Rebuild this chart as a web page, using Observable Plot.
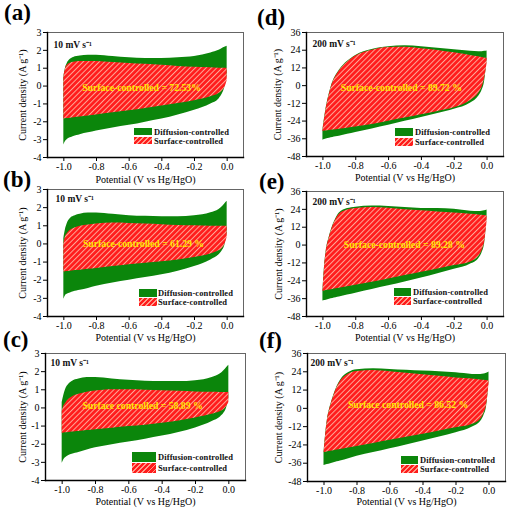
<!DOCTYPE html>
<html>
<head>
<meta charset="utf-8">
<script src="https://cdn.jsdelivr.net/npm/d3@7"></script>
<script src="https://cdn.jsdelivr.net/npm/@observablehq/plot@0.6"></script>
<style>
  html, body { margin: 0; padding: 0; background: #fff; }
  #wrap { position: relative; width: 515px; height: 509px; overflow: hidden; font-family: "Liberation Serif", "Times New Roman", serif; }
  .pnl { position: absolute; }
  .letter { position: absolute; font-weight: bold; font-size: 23px; line-height: 23px; color: #000; }
  .sw { position: absolute; }
  .sw.green { background: #0b860b; }
  .sw.red { background: repeating-linear-gradient(135deg, #ff1c1c 0 2.6px, #ff9c8c 2.6px 3.6px); }
  .lt { position: absolute; font-weight: bold; font-size: 8.5px; line-height: 10px; color: #111; white-space: nowrap; letter-spacing: 0.1px; }
</style>
</head>
<body>
<svg width="0" height="0" style="position:absolute">
  <defs>
    <pattern id="hatch" patternUnits="userSpaceOnUse" width="3.8" height="3.8" patternTransform="rotate(45)">
      <rect width="3.8" height="3.8" fill="#ff1c1c"></rect>
      <line x1="0.5" y1="0" x2="0.5" y2="3.8" stroke="#ffa696" stroke-width="1"></line>
    </pattern>
  </defs>
</svg>
<div id="wrap"></div>
<script>
// ---------------- DATA ----------------
const potential = [-1.0, -0.99, -0.98, -0.96, -0.94, -0.92, -0.9, -0.85, -0.8, -0.7, -0.6, -0.5, -0.4, -0.3, -0.2, -0.1, -0.05, -0.03, -0.015, 0.0];

// (a) 10 mV/s
const totalUpperA = [0.5, 1.0, 1.25, 1.5, 1.6, 1.65, 1.68, 1.72, 1.72, 1.65, 1.58, 1.55, 1.55, 1.58, 1.65, 1.85, 2.0, 2.1, 2.17, 2.23];
const totalLowerA = [-3.3, -3.1, -3.0, -2.9, -2.82, -2.77, -2.72, -2.62, -2.52, -2.35, -2.2, -2.02, -1.85, -1.62, -1.35, -1.0, -0.72, -0.45, -0.1, 0.6];
const surfUpperA  = [0.5, 0.95, 1.15, 1.28, 1.33, 1.36, 1.37, 1.38, 1.37, 1.32, 1.27, 1.22, 1.16, 1.1, 1.06, 1.02, 1.0, 1.0, 1.0, 0.98];
const surfLowerA  = [-1.85, -1.83, -1.82, -1.8, -1.77, -1.75, -1.73, -1.67, -1.62, -1.5, -1.38, -1.25, -1.12, -0.98, -0.82, -0.6, -0.42, -0.28, -0.1, 0.3];

// (b) 10 mV/s
const totalUpperB = [0.3, 0.8, 1.1, 1.4, 1.52, 1.6, 1.64, 1.7, 1.7, 1.63, 1.56, 1.52, 1.5, 1.5, 1.55, 1.72, 1.9, 2.05, 2.2, 2.35];
const totalLowerB = [-3.05, -2.85, -2.78, -2.7, -2.64, -2.6, -2.56, -2.45, -2.33, -2.15, -2.0, -1.85, -1.7, -1.5, -1.25, -0.88, -0.6, -0.38, -0.1, 0.6];
const surfUpperB  = [0.0, 0.4, 0.55, 0.75, 0.85, 0.92, 0.97, 1.05, 1.1, 1.15, 1.13, 1.1, 1.06, 1.02, 1.0, 0.98, 0.98, 0.98, 0.98, 0.98];
const surfLowerB  = [-1.55, -1.53, -1.52, -1.5, -1.48, -1.47, -1.45, -1.4, -1.35, -1.25, -1.15, -1.07, -0.98, -0.88, -0.75, -0.55, -0.38, -0.25, -0.05, 0.35];

// (c) 10 mV/s
const totalUpperC = [0.3, 0.7, 1.0, 1.3, 1.45, 1.55, 1.6, 1.68, 1.68, 1.6, 1.52, 1.47, 1.45, 1.45, 1.5, 1.68, 1.88, 2.05, 2.2, 2.35];
const totalLowerC = [-3.05, -2.85, -2.75, -2.62, -2.55, -2.5, -2.45, -2.32, -2.2, -2.03, -1.88, -1.72, -1.55, -1.35, -1.1, -0.75, -0.5, -0.3, -0.05, 0.5];
const surfUpperC  = [-0.2, 0.1, 0.25, 0.48, 0.6, 0.7, 0.76, 0.87, 0.93, 1.0, 1.0, 0.98, 0.95, 0.92, 0.88, 0.86, 0.85, 0.85, 0.85, 0.85];
const surfLowerC  = [-1.4, -1.38, -1.37, -1.35, -1.33, -1.31, -1.3, -1.25, -1.2, -1.12, -1.03, -0.95, -0.85, -0.72, -0.55, -0.35, -0.2, -0.1, 0.05, 0.3];

// (d) 200 mV/s
const totalUpperD = [-30, -22, -15, -5, 2.5, 7, 10.5, 16.5, 20.5, 24.5, 26.3, 27, 26.3, 25.3, 24.3, 23.3, 23, 23, 23.3, 23.5];
const totalLowerD = [-37, -36.5, -36.2, -35.7, -35.2, -34.7, -34.2, -33, -31.8, -29.3, -26.8, -24.2, -21.5, -18.8, -16, -11.8, -7, -3, 3, 18];
const surfUpperD  = [-30.5, -22.5, -15.5, -5.5, 2, 6.5, 10, 16, 20, 24, 25.8, 26, 25, 23.8, 22.2, 20.5, 19.5, 19, 18.8, 18.5];
const surfLowerD  = [-31, -30.8, -30.7, -30.4, -30.1, -29.8, -29.5, -28.8, -28, -26.4, -24.2, -22, -19.8, -17.5, -15, -10, -5, -1, 5, 15];

// (e) 200 mV/s
const totalUpperE = [-31, -14, -4, 6, 13, 18, 21.5, 24.5, 25.5, 26.3, 26, 25.2, 24.6, 24.5, 24, 22.8, 22.5, 22.7, 23, 23.5];
const totalLowerE = [-37.5, -37.2, -37, -36.4, -35.9, -35.4, -34.9, -33.6, -32.3, -29.8, -27.3, -24.8, -22.1, -19.2, -16.3, -12.8, -9, -5, 1, 20];
const surfUpperE  = [-31.5, -14.5, -4.5, 5.5, 12.5, 17.3, 20.7, 23.6, 24.6, 25.2, 24.8, 23.8, 23, 22.3, 21.5, 20.7, 20.2, 20, 19.8, 19.5];
const surfLowerE  = [-31, -30.8, -30.6, -30.2, -29.8, -29.4, -29, -28, -27, -25, -22.8, -20.5, -18.2, -16, -13.8, -11.3, -7.5, -3.5, 2, 16];

// (f) 200 mV/s
const totalUpperF = [-29, -17, -8, 2, 9, 14.5, 18.5, 23.5, 25.3, 26, 25.5, 25, 24.5, 24, 23.3, 22.3, 22.2, 22.5, 23, 23.8];
const totalLowerF = [-37.5, -37.2, -36.9, -36.3, -35.7, -35.1, -34.5, -33, -31.5, -29, -26.5, -24, -21.5, -18.8, -16, -12.3, -8.5, -4.5, 1, 18];
const surfUpperF  = [-29.5, -17.5, -8.5, 1.5, 8.5, 14, 17.8, 22.5, 24.2, 24.8, 24, 23, 22, 21, 20, 19.2, 18.6, 18.4, 18.2, 18];
const surfLowerF  = [-29, -28.8, -28.6, -28.2, -27.8, -27.4, -27, -26, -25, -23, -21, -19, -17, -14.8, -12.8, -10.5, -7, -3, 2, 16];

const xTicks = [-1.0, -0.8, -0.6, -0.4, -0.2, 0.0];
const yTicks10 = [3, 2, 1, 0, -1, -2, -3, -4];
const yTicks200 = [36, 24, 12, 0, -12, -24, -36, -48];
const panelLetters = ["(a)", "(b)", "(c)", "(d)", "(e)", "(f)"];
const scanRates = ["10 mV s\u207B\u00B9", "10 mV s\u207B\u00B9", "10 mV s\u207B\u00B9", "200 mV s\u207B\u00B9", "200 mV s\u207B\u00B9", "200 mV s\u207B\u00B9"];
const surfaceLabels = ["Surface-controlled = 72.53%", "Surface-controlled = 61.29 %", "Surface controlled = 58.89 %",
                       "Surface-controlled = 89.72 %", "Surface-controlled = 89.28 %", "Surface controlled = 86.52 %"];
const legendLabels = ["Diffusion-controlled", "Surface-controlled"];
const xLabel = "Potential (V vs Hg/HgO)";
const yLabel = "Current density (A g\u207B\u00B9)";

const series = [
  [totalUpperA, totalLowerA, surfUpperA, surfLowerA],
  [totalUpperB, totalLowerB, surfUpperB, surfLowerB],
  [totalUpperC, totalLowerC, surfUpperC, surfLowerC],
  [totalUpperD, totalLowerD, surfUpperD, surfLowerD],
  [totalUpperE, totalLowerE, surfUpperE, surfLowerE],
  [totalUpperF, totalLowerF, surfUpperF, surfLowerF]
];

// ---------------- LAYOUT ----------------
const GREEN = "#0b860b";
const YELLOW = "#ffe600";
const layout = [
  {frame: [47, 32, 243, 157],  sx: 0,   yTicks: yTicks10,  yDom: [-4, 3],   xOff: 17, yOff: 28.5, rate: [6, 12], ann: [-4, -7.5], letter: [4, 1],
   leg: {x: 134, y1: 128, y2: 137, w: 18, h: 7, tx: 154}},
  {frame: [47, 189, 243, 316], sx: 0,   yTicks: yTicks10,  yDom: [-4, 3],   xOff: 16, yOff: 28.5, rate: [8, 9], ann: [-2, -9], letter: [3, 168],
   leg: {x: 139, y1: 289, y2: 298, w: 18, h: 7.5, tx: 158}},
  {frame: [45, 353, 245, 480], sx: 0,   yTicks: yTicks10,  yDom: [-4, 3],   xOff: 16, yOff: 26.5, rate: [5, 9], ann: [-3, -11.5], letter: [3, 328],
   leg: {x: 132, y1: 452, y2: 463, w: 24, h: 10, tx: 158}},
  {frame: [306, 32, 503, 156], sx: 258, yTicks: yTicks200, yDom: [-48, 36], xOff: 16, yOff: 32.5, rate: [6, 11], ann: [-3.7, -6.7], letter: [257, 6],
   leg: {x: 395, y1: 128, y2: 138, w: 18, h: 7.5, tx: 415}},
  {frame: [306, 191, 503, 316], sx: 258, yTicks: yTicks200, yDom: [-48, 36], xOff: 16, yOff: 31.5, rate: [6, 10], ann: [-0.7, -9], letter: [259, 170],
   leg: {x: 394, y1: 288, y2: 297, w: 17, h: 7.5, tx: 413}},
  {frame: [307, 353, 505, 481], sx: 258, yTicks: yTicks200, yDom: [-48, 36], xOff: 15, yOff: 32.5, rate: [3, 9], ann: [1.5, -13], letter: [259, 329],
   leg: {x: 401, y1: 456, y2: 465, w: 17, h: 7.5, tx: 420}}
];

const wrap = document.getElementById("wrap");

layout.forEach((L, i) => {
  const [fl, ft, fr, fb] = L.frame;
  const [tU, tL, sU, sL] = series[i];
  const rows = potential.map((p, j) => ({p, tU: tU[j], tL: tL[j], sU: sU[j], sL: sL[j]}));
  const mT = 6, mB = 34, mR = 8;
  const mL = fl - L.sx;
  const sy = ft - mT;
  const width = fr + mR - L.sx;
  const height = fb - ft + mT + mB;

  const svg = Plot.plot({
    width, height,
    marginLeft: mL, marginTop: mT, marginRight: mR, marginBottom: mB,
    style: {background: "transparent", overflow: "visible", maxWidth: "none",
            fontFamily: "'Liberation Serif', 'Times New Roman', serif", fontSize: "10px", color: "#000"},
    x: {domain: [-1.1, 0.1]},
    y: {domain: L.yDom},
    marks: [
      Plot.areaY(rows, {x: "p", y1: "tL", y2: "tU", fill: GREEN, curve: "monotone-x"}),
      Plot.areaY(rows, {x: "p", y1: "sL", y2: "sU", fill: "url(#hatch)", curve: "monotone-x"}),
      Plot.frame({stroke: "#555", strokeWidth: 0.9}),
      Plot.frame({anchor: "left", stroke: "#000", strokeWidth: 1.4}),
      Plot.frame({anchor: "bottom", stroke: "#000", strokeWidth: 1.4}),
      Plot.axisX({ticks: xTicks, tickFormat: d => d.toFixed(1), tickSize: 4, tickPadding: 1.5,
                  label: xLabel, labelAnchor: "center", labelArrow: "none", labelOffset: L.xOff + 8,
                  fontSize: 10}),
      Plot.axisY({ticks: L.yTicks, tickFormat: d => String(d), tickSize: 4, tickPadding: 2,
                  label: yLabel, labelAnchor: "center", labelArrow: "none", labelOffset: L.yOff,
                  fontSize: 10}),
      Plot.text([scanRates[i]], {text: d => d, frameAnchor: "top-left", textAnchor: "start", lineAnchor: "middle",
                  dx: L.rate[0], dy: L.rate[1], fontWeight: "bold", fontSize: 9.5, fill: "#111"}),
      Plot.text([surfaceLabels[i]], {text: d => d, frameAnchor: "middle", dx: L.ann[0], dy: L.ann[1],
                  fontWeight: "bold", fontSize: 9.7, fill: YELLOW})
    ]
  });
  const holder = document.createElement("div");
  holder.className = "pnl";
  holder.style.left = L.sx + "px";
  holder.style.top = sy + "px";
  holder.style.width = width + "px";
  holder.style.height = height + "px";
  holder.appendChild(svg);
  wrap.appendChild(holder);

  const lt = document.createElement("div");
  lt.className = "letter";
  lt.style.left = L.letter[0] + "px";
  lt.style.top = L.letter[1] + "px";
  lt.textContent = panelLetters[i];
  wrap.appendChild(lt);

  const g = L.leg;
  [["green", g.y1, legendLabels[0]], ["red", g.y2, legendLabels[1]]].forEach(([cls, y, label]) => {
    const sw = document.createElement("div");
    sw.className = "sw " + cls;
    sw.style.left = g.x + "px";
    sw.style.top = y + "px";
    sw.style.width = g.w + "px";
    sw.style.height = g.h + "px";
    wrap.appendChild(sw);
    const t = document.createElement("div");
    t.className = "lt";
    t.style.left = g.tx + "px";
    t.style.top = (y + g.h / 2 - 5) + "px";
    t.textContent = label;
    wrap.appendChild(t);
  });
});
</script>
</body>
</html>
